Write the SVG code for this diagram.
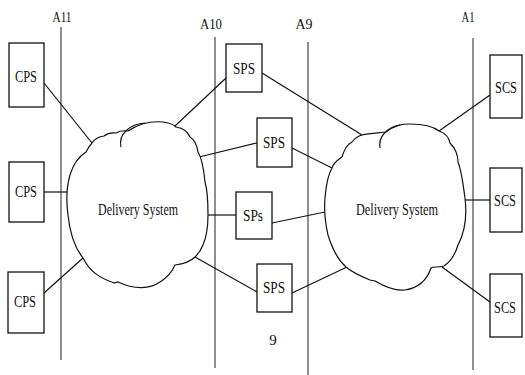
<svg xmlns="http://www.w3.org/2000/svg" width="525" height="375" viewBox="0 0 525 375">
  <style>
    .bg { fill: #ffffff; }
    .ref { stroke: #333333; stroke-width: 1.1; fill: none; }
    .box rect { fill: #ffffff; stroke: #111111; stroke-width: 1.3; }
    .cloud path { fill: #ffffff; stroke: #111111; stroke-width: 1.2; }
    .cloud path.curl { fill: none; }
    .conn line { stroke: #111111; stroke-width: 1.2; }
    text { font-family: "Liberation Serif", "Times New Roman", serif; fill: #111111; text-anchor: middle; }
    .lbl { font-size: 17px; }
    .axis { font-size: 15px; }
    .ds { font-size: 16px; }
  </style>
  <rect class="bg" x="0" y="0" width="525" height="375"/>

  <!-- interface reference lines -->
  <g id="interfaces">
    <line class="ref" x1="61" y1="27" x2="61" y2="360"/>
    <line class="ref" x1="215" y1="37" x2="215" y2="368"/>
    <line class="ref" x1="308" y1="42" x2="308" y2="375"/>
    <line class="ref" x1="473" y1="38" x2="473" y2="370"/>
    <text class="axis" x="62" y="22" textLength="19" lengthAdjust="spacingAndGlyphs">A11</text>
    <text class="axis" x="211" y="29" textLength="22" lengthAdjust="spacingAndGlyphs">A10</text>
    <text class="axis" x="304" y="29" textLength="17" lengthAdjust="spacingAndGlyphs">A9</text>
    <text class="axis" x="468" y="22" textLength="13" lengthAdjust="spacingAndGlyphs">A1</text>
    <text class="axis" x="273" y="345">9</text>
  </g>

  <!-- connectors -->
  <g id="connectors" class="conn">
    <line x1="44" y1="83" x2="92" y2="143"/>
    <line x1="44" y1="192" x2="68" y2="192"/>
    <line x1="44" y1="293" x2="83" y2="258"/>
    <line x1="175" y1="126" x2="226" y2="78"/>
    <line x1="199" y1="157" x2="257" y2="143"/>
    <line x1="208" y1="215" x2="236" y2="215"/>
    <line x1="195" y1="257" x2="257" y2="292"/>
    <line x1="262" y1="73" x2="362" y2="135"/>
    <line x1="292" y1="148" x2="332" y2="168"/>
    <line x1="272" y1="223" x2="325" y2="212"/>
    <line x1="292" y1="293" x2="347" y2="267"/>
    <line x1="439" y1="131" x2="490" y2="95"/>
    <line x1="465" y1="200" x2="490" y2="200"/>
    <line x1="442" y1="267" x2="490" y2="302"/>
  </g>

  <!-- delivery system clouds -->
  <g id="cloud-left" class="cloud">
    <path d="M92,143 Q96,137 104,136 Q109,132 116,133 Q121,130 128,131 C140,123 152,121 163,122 C170,123 174,125 176,127 C183,128 188,132 190,137 C195,140 197,146 198,152 C203,160 204,172 205,182 C208,192 208,205 208,215 C208,228 206,238 203,245 C201,250 198,254 195,257 C190,262 183,264 175,265 C172,272 168,277 160,282 C150,289 135,290 118,282 L114,283 C100,278 90,272 83,258 C75,248 70,235 68,215 C66,200 67,185 70,175 C73,165 78,157 86,152 C88,148 90,145 92,143 Z"/>
    <path class="curl" d="M121,147 C118,134 130,124 145,123"/>
    <text class="ds" x="138" y="215" textLength="80" lengthAdjust="spacingAndGlyphs">Delivery System</text>
  </g>

  <g id="cloud-right" class="cloud">
    <path d="M362,135 C370,133 378,133 386,132 C395,125 402,124 410,124 C425,124 434,127 439,131 C445,133 449,138 450,143 C455,148 458,155 458,162 C462,172 463,185 465,198 C467,215 465,232 458,245 C455,255 450,262 444,266 C438,268 433,266 431,268 C427,280 418,288 405,290 C395,291 385,287 375,281 L370,280 C360,276 352,272 346,267 C338,260 332,248 328,235 C325,222 324,210 325,198 C326,185 328,175 332,168 C334,162 338,160 342,157 C344,150 348,144 352,142 C355,138 358,136 362,135 Z"/>
    <path class="curl" d="M380,148 C378,136 388,127 400,125"/>
    <text class="ds" x="397" y="215" textLength="82" lengthAdjust="spacingAndGlyphs">Delivery System</text>
  </g>

  <!-- CPS nodes -->
  <g id="cps1" class="box"><rect x="9" y="43" width="35" height="64"/><text class="lbl" x="26" y="82" textLength="22" lengthAdjust="spacingAndGlyphs">CPS</text></g>
  <g id="cps2" class="box"><rect x="9" y="162" width="35" height="60"/><text class="lbl" x="26" y="197" textLength="22" lengthAdjust="spacingAndGlyphs">CPS</text></g>
  <g id="cps3" class="box"><rect x="8" y="272" width="36" height="61"/><text class="lbl" x="25" y="307" textLength="22" lengthAdjust="spacingAndGlyphs">CPS</text></g>

  <!-- SPS nodes -->
  <g id="sps1" class="box"><rect x="226" y="44" width="36" height="48"/><text class="lbl" x="244" y="74" textLength="22" lengthAdjust="spacingAndGlyphs">SPS</text></g>
  <g id="sps2" class="box"><rect x="257" y="118" width="35" height="49"/><text class="lbl" x="274" y="148" textLength="22" lengthAdjust="spacingAndGlyphs">SPS</text></g>
  <g id="sps3" class="box"><rect x="236" y="192" width="36" height="47"/><text class="lbl" x="253" y="221" textLength="20" lengthAdjust="spacingAndGlyphs">SPs</text></g>
  <g id="sps4" class="box"><rect x="257" y="264" width="35" height="48"/><text class="lbl" x="274" y="293" textLength="22" lengthAdjust="spacingAndGlyphs">SPS</text></g>

  <!-- SCS nodes -->
  <g id="scs1" class="box"><rect x="490" y="55" width="32" height="63"/><text class="lbl" x="506" y="93" textLength="22" lengthAdjust="spacingAndGlyphs">SCS</text></g>
  <g id="scs2" class="box"><rect x="490" y="168" width="32" height="64"/><text class="lbl" x="505" y="206" textLength="22" lengthAdjust="spacingAndGlyphs">SCS</text></g>
  <g id="scs3" class="box"><rect x="490" y="274" width="32" height="63"/><text class="lbl" x="505" y="313" textLength="22" lengthAdjust="spacingAndGlyphs">SCS</text></g>
</svg>
